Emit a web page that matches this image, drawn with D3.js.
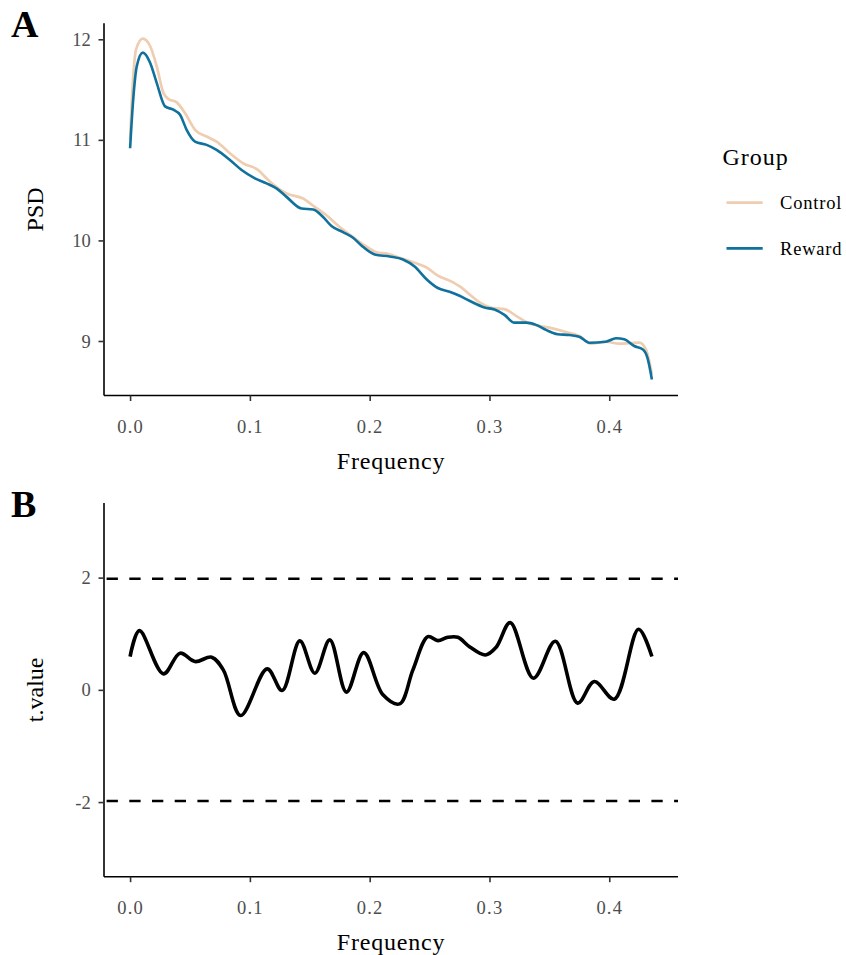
<!DOCTYPE html>
<html>
<head>
<meta charset="utf-8">
<script src="https://cdn.jsdelivr.net/npm/d3@7/dist/d3.min.js"></script>
<style>
  html, body { margin: 0; padding: 0; background: #fff; }
  svg { display: block; }
  text { font-family: "Liberation Serif", "Times New Roman", serif; }
</style>
</head>
<body>
<svg id="chart" width="846" height="955"></svg>
<script>
// ---------- Data ----------
const groups = ["Control", "Reward"];
const groupColors = ["#EFCDB0", "#10719D"];

const controlFreq = [0, 0.0022, 0.005, 0.0106, 0.0167, 0.0222, 0.0278, 0.0319, 0.0389, 0.0458, 0.0542, 0.0639, 0.0722, 0.0833, 0.0944, 0.1069, 0.1153, 0.1236, 0.1306, 0.1444, 0.1542, 0.1639, 0.175, 0.1861, 0.1958, 0.2056, 0.2153, 0.225, 0.2361, 0.2472, 0.2569, 0.2667, 0.2764, 0.2847, 0.2917, 0.3028, 0.3125, 0.3222, 0.3333, 0.35, 0.3639, 0.375, 0.3847, 0.3972, 0.4083, 0.425, 0.4306, 0.4356];
const controlPSD  = [11.0, 11.55, 11.90, 12.007, 11.933, 11.733, 11.467, 11.407, 11.373, 11.267, 11.10, 11.033, 10.983, 10.867, 10.767, 10.70, 10.60, 10.517, 10.467, 10.417, 10.333, 10.25, 10.133, 10.033, 9.95, 9.883, 9.867, 9.827, 9.783, 9.733, 9.65, 9.60, 9.533, 9.45, 9.383, 9.327, 9.317, 9.25, 9.173, 9.133, 9.09, 9.05, 8.973, 8.993, 8.973, 8.983, 8.917, 8.667];

const rewardFreq = [0, 0.0028, 0.0056, 0.0106, 0.0167, 0.0222, 0.0292, 0.0361, 0.0417, 0.0472, 0.0542, 0.0639, 0.0722, 0.0833, 0.0931, 0.1042, 0.1139, 0.1222, 0.1306, 0.1431, 0.1528, 0.1611, 0.1681, 0.1778, 0.1861, 0.1931, 0.2042, 0.2167, 0.2278, 0.2375, 0.2472, 0.2569, 0.2667, 0.275, 0.2833, 0.2958, 0.3042, 0.3125, 0.3208, 0.3306, 0.3389, 0.3472, 0.3569, 0.3667, 0.375, 0.3833, 0.3972, 0.4056, 0.4125, 0.4208, 0.4278, 0.4319, 0.4356];
const rewardPSD  = [10.917, 11.433, 11.733, 11.867, 11.767, 11.567, 11.333, 11.30, 11.25, 11.10, 10.983, 10.95, 10.90, 10.80, 10.70, 10.617, 10.567, 10.517, 10.433, 10.317, 10.307, 10.233, 10.143, 10.083, 10.027, 9.95, 9.86, 9.84, 9.81, 9.74, 9.617, 9.527, 9.49, 9.45, 9.40, 9.333, 9.313, 9.26, 9.183, 9.183, 9.16, 9.11, 9.067, 9.06, 9.043, 8.983, 8.993, 9.027, 9.017, 8.95, 8.917, 8.833, 8.617];

const tFreq  = [0, 0.0078, 0.0278, 0.0417, 0.0542, 0.0681, 0.0778, 0.0923, 0.1144, 0.1269, 0.1417, 0.1542, 0.1667, 0.1806, 0.195, 0.2111, 0.225, 0.2361, 0.2486, 0.2569, 0.2653, 0.2736, 0.2833, 0.2967, 0.3056, 0.3173, 0.3367, 0.355, 0.3736, 0.3875, 0.4042, 0.4244, 0.4356];
const tValue = [0.593, 1.055, 0.285, 0.653, 0.504, 0.582, 0.356, -0.457, 0.374, -0.012, 0.872, 0.297, 0.89, -0.04, 0.664, -0.089, -0.249, 0.356, 0.948, 0.877, 0.937, 0.937, 0.77, 0.622, 0.76, 1.198, 0.208, 0.867, -0.237, 0.148, -0.166, 1.08, 0.593];

const thresholds = [1.98, -1.98];

const xTicks = [0, 0.1, 0.2, 0.3, 0.4];
const xTickLabels = ["0.0", "0.1", "0.2", "0.3", "0.4"];
const psdTicks = [9, 10, 11, 12];
const psdTickLabels = ["9", "10", "11", "12"];
const tTicks = [-2, 0, 2];
const tTickLabels = ["-2", "0", "2"];

// ---------- Layout ----------
const svg = d3.select("#chart");
const L = 104, R = 678;
const panelA = { top: 23.3, bottom: 395.5 };
const panelB = { top: 503, bottom: 876.7 };

const fMax = d3.max(rewardFreq);
const x = d3.scaleLinear().domain([-0.05 * fMax, fMax * 1.05]).range([L, R]);
const yA = d3.scaleLinear().domain([8.458, 12.159]).range([panelA.bottom, panelA.top]);
const yB = d3.scaleLinear().domain([-3.33, 3.33]).range([panelB.bottom, panelB.top]);

const tickCol = "#4D4D4D";

function drawAxes(yScale, panel, yTicks, yLabels, yTitle, tag, tagY) {
  // x axis
  const gx = svg.append("g").attr("transform", `translate(0,${panel.bottom})`)
    .call(d3.axisBottom(x).tickValues(xTicks).tickFormat((d, i) => xTickLabels[i]).tickSize(5.5).tickSizeOuter(0));
  gx.select(".domain").attr("stroke", "#000").attr("stroke-width", 1.6).attr("d", `M${L},0H${R}`);
  gx.selectAll(".tick line").attr("stroke", "#333").attr("stroke-width", 1.6);
  gx.selectAll(".tick text").attr("fill", tickCol).attr("font-size", 18.5)
    .attr("font-family", "Liberation Serif, serif").attr("letter-spacing", "1.2px")
    .attr("dy", null).attr("y", 37.8);

  // y axis
  const gy = svg.append("g").attr("transform", `translate(${L},0)`)
    .call(d3.axisLeft(yScale).tickValues(yTicks).tickFormat((d, i) => yLabels[i]).tickSize(5.5).tickSizeOuter(0));
  gy.select(".domain").attr("stroke", "#000").attr("stroke-width", 1.6).attr("d", `M0,${panel.top}V${panel.bottom}`);
  gy.selectAll(".tick line").attr("stroke", "#333").attr("stroke-width", 1.6);
  gy.selectAll(".tick text").attr("fill", tickCol).attr("font-size", 18.5)
    .attr("font-family", "Liberation Serif, serif").attr("x", -13.3).attr("dy", "0.33em");

  // titles
  svg.append("text").attr("x", (L + R) / 2).attr("y", panel.bottom + 73)
    .attr("text-anchor", "middle").attr("font-size", 24).attr("letter-spacing", "0.8px")
    .attr("fill", "#000").text("Frequency");
  const cy = (panel.top + panel.bottom) / 2;
  svg.append("text").attr("transform", `translate(43,${cy}) rotate(-90)`)
    .attr("text-anchor", "middle").attr("font-size", 24).attr("fill", "#000").text(yTitle);

  // tag
  svg.append("text").attr("x", 11).attr("y", tagY).attr("font-size", 38)
    .attr("font-weight", "bold").attr("fill", "#000").text(tag);
}

drawAxes(yA, panelA, psdTicks, psdTickLabels, "PSD", "A", 36.7);
drawAxes(yB, panelB, tTicks, tTickLabels, "t.value", "B", 516.5);

// ---------- Panel A lines ----------
const lineA = d3.line().x(d => x(d[0])).y(d => yA(d[1])).curve(d3.curveMonotoneX);
const controlData = controlFreq.map((f, i) => [f, controlPSD[i]]);
const rewardData = rewardFreq.map((f, i) => [f, rewardPSD[i]]);

svg.append("path").datum(controlData).attr("d", lineA)
  .attr("fill", "none").attr("stroke", groupColors[0]).attr("stroke-width", 2.7).attr("stroke-linejoin", "round");
svg.append("path").datum(rewardData).attr("d", lineA)
  .attr("fill", "none").attr("stroke", groupColors[1]).attr("stroke-width", 2.6).attr("stroke-linejoin", "round");

// ---------- Legend ----------
const lg = svg.append("g");
lg.append("text").attr("x", 722.5).attr("y", 165).attr("font-size", 24).attr("letter-spacing", "1px")
  .attr("fill", "#000").text("Group");
groups.forEach((g, i) => {
  const yy = 202.7 + i * 45.6;
  lg.append("line").attr("x1", 726.5).attr("x2", 762.7).attr("y1", yy).attr("y2", yy)
    .attr("stroke", groupColors[i]).attr("stroke-width", 2.7);
  lg.append("text").attr("x", 780).attr("y", yy + 6.5).attr("font-size", 18.5).attr("letter-spacing", "0.8px")
    .attr("fill", "#000").text(g);
});

// ---------- Panel B ----------
thresholds.forEach(v => {
  svg.append("line").attr("x1", L).attr("x2", R).attr("y1", yB(v)).attr("y2", yB(v))
    .attr("stroke", "#000").attr("stroke-width", 2.6).attr("stroke-dasharray", "11.3,11.4")
    .attr("stroke-dashoffset", -2.6);
});

const lineB = d3.line().x(d => x(d[0])).y(d => yB(d[1])).curve(d3.curveCatmullRom.alpha(0.5));
const tData = tFreq.map((f, i) => [f, tValue[i]]);
svg.append("path").datum(tData).attr("d", lineB)
  .attr("fill", "none").attr("stroke", "#000").attr("stroke-width", 3.6).attr("stroke-linejoin", "round");
</script>
</body>
</html>
